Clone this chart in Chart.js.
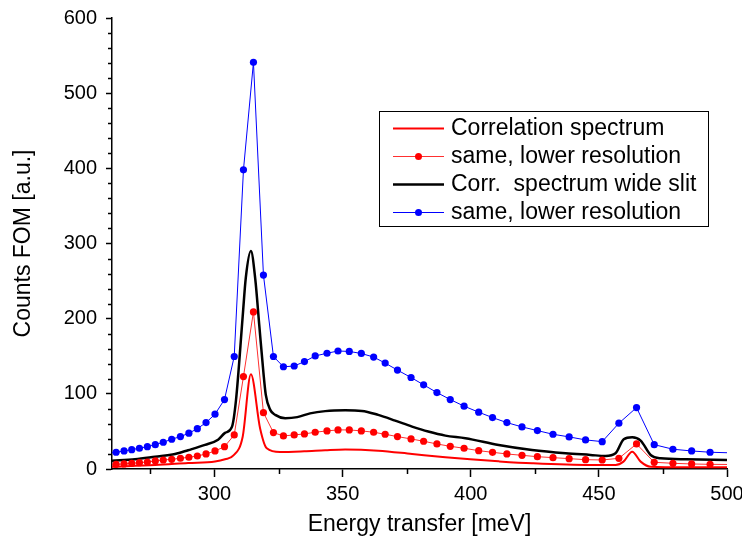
<!DOCTYPE html>
<html>
<head>
<meta charset="utf-8">
<script src="https://cdn.jsdelivr.net/npm/chart.js@4.4.1/dist/chart.umd.min.js"></script>
<style>
    body { margin: 0; background: #fff; }
    canvas { display: block; }
</style>
</head>
<body>
<canvas id="spectrum-chart" width="742" height="547"></canvas>
<script>
// energy transfer [meV] / counts for each curve
const corrX = [260, 276.8, 289.7, 300.2, 304.1, 307.4, 311.0, 314.2, 317.8, 320.4, 325.6, 335, 343.2, 351.0, 363.9, 377.1, 390.1, 399.8, 410.8, 423.9, 446.7, 456.5, 459.6, 463.0, 466.3, 470.2, 483.8, 500];
const corrY = [3, 5.3, 8, 10, 13, 18, 43, 126, 54, 27.6, 22.5, 23.5, 25, 26, 24.4, 20, 15.6, 12.9, 10.2, 7.6, 5.3, 5.3, 9.8, 23.1, 9.8, 3, 2.3, 2.3];

const wideX = [260, 269, 276.8, 284.6, 289.7, 296.3, 301.4, 304.1, 306.8, 308.4, 311.0, 312.2, 314.2, 315.9, 317.5, 319.1, 320.0, 321.7, 323.7, 327.6, 332.3, 337.3, 343.2, 351.0, 357.5, 363.9, 370.5, 377.1, 383.4, 390.1, 397.9, 410.9, 423.9, 437.0, 446.7, 452.6, 456.5, 459.7, 463.0, 466.3, 470.2, 474.1, 483.9, 500];
const wideY = [11, 13, 16.4, 20, 25, 32, 39, 48, 56, 92, 203, 254, 290, 253, 190, 128, 99, 79, 72, 67.6, 69, 74, 77, 78, 77.3, 72, 64.4, 56.4, 49.8, 44.4, 41, 32, 25.3, 20.9, 18.7, 17.3, 20.9, 39.6, 42.3, 37.8, 18.7, 14.2, 12.9, 12];

const lowResX = [258.4, 261.6, 264.7, 267.7, 270.7, 273.8, 276.9, 280.0, 283.3, 286.7, 290.0, 293.3, 296.7, 300.2, 303.9, 307.7, 311.3, 315.2, 319.1, 323.0, 326.9, 331.1, 335.1, 339.3, 343.9, 348.2, 352.6, 357.3, 362.1, 366.6, 371.4, 376.7, 381.6, 386.8, 392.0, 397.4, 403.1, 408.5, 414.1, 420.0, 426.0, 432.1, 438.4, 444.8, 451.3, 457.8, 464.7, 471.6, 478.9, 486.2, 493.4, 501.5];
const lowResRed = [5.8, 6.2, 6.7, 7.6, 8.4, 9.3, 10.7, 12, 12.9, 14.3, 15.6, 17.3, 20, 24, 29.7, 45.3, 123, 209, 75, 48.4, 44, 45.3, 46.7, 48.9, 50.7, 52, 52, 50.7, 48.9, 46.2, 43.1, 40, 36.9, 33.3, 30.2, 27.6, 24.4, 22.2, 20, 18.2, 16.4, 15.1, 13.8, 12.4, 12, 14.2, 33.3, 8.9, 7.6, 6.7, 6.2, 6];
const lowResBlue = [21, 22.3, 24, 25.7, 27.6, 29.7, 32.4, 35.6, 39.6, 43.1, 47.6, 53.7, 61.7, 72.9, 92.4, 149.7, 398, 541, 258, 149.7, 136, 137, 142.9, 150.4, 154, 157, 156.4, 153.7, 148.9, 140.9, 131.6, 121.7, 112, 101.7, 92.4, 83.6, 75.6, 68.4, 61.7, 56, 51.1, 46.2, 42.7, 38.7, 36.4, 60.9, 81.7, 32.4, 26.3, 24, 22.3, 21.5];

const xTicks = [300, 350, 400, 450, 500];
const xMinorTicks = [275, 325, 375, 425, 475];
const yTicks = [0, 100, 200, 300, 400, 500, 600];
const yMinorTicks = [20, 40, 60, 80, 120, 140, 160, 180, 220, 240, 260, 280, 320, 340, 360, 380, 420, 440, 460, 480, 520, 540, 560, 580];

const seriesLabels = ["Correlation spectrum", "same, lower resolution", "Corr.  spectrum wide slit", "same, lower resolution"];

const FONT = "'Liberation Sans', Arial, sans-serif";

function toPoints(xs, ys) {
    return xs.map((x, i) => ({ x: x, y: ys[i] }));
}

// minor ticks, drawn by hand since chart.js only has one tick length
const minorTicks = {
    id: "minorTicks",
    afterDraw(chart) {
        const ctx = chart.ctx;
        const xs = chart.scales.x;
        const ys = chart.scales.y;
        ctx.save();
        ctx.strokeStyle = "#000";
        ctx.lineWidth = 1.5;
        ctx.beginPath();
        xMinorTicks.forEach(v => {
            const px = Math.round(xs.getPixelForValue(v)) + 0.5;
            ctx.moveTo(px, ys.bottom);
            ctx.lineTo(px, ys.bottom + 5);
        });
        yMinorTicks.forEach(v => {
            const py = Math.round(ys.getPixelForValue(v)) + 0.5;
            ctx.moveTo(xs.left, py);
            ctx.lineTo(xs.left - 4, py);
        });
        ctx.stroke();
        ctx.restore();
    }
};

// boxed legend inside the plot
const boxLegend = {
    id: "boxLegend",
    afterDraw(chart) {
        const ctx = chart.ctx;
        const box = { left: 379, top: 111, right: 708, bottom: 226 };
        ctx.save();
        ctx.strokeStyle = "#000";
        ctx.lineWidth = 1;
        ctx.strokeRect(box.left + 0.5, box.top + 0.5, box.right - box.left, box.bottom - box.top);
        ctx.font = "23px " + FONT;
        ctx.textBaseline = "middle";
        ctx.fillStyle = "#000";
        chart.data.datasets.forEach((ds, i) => {
            const y = 128 + i * 28;
            ctx.strokeStyle = ds.borderColor;
            ctx.lineWidth = ds.borderWidth;
            ctx.beginPath();
            ctx.moveTo(393, y + 0.5);
            ctx.lineTo(444, y + 0.5);
            ctx.stroke();
            if (ds.pointRadius > 0) {
                ctx.fillStyle = ds.pointBackgroundColor;
                ctx.beginPath();
                ctx.arc(418.5, y + 0.5, 3.5, 0, Math.PI * 2);
                ctx.fill();
            }
            ctx.fillStyle = "#000";
            ctx.fillText(ds.label, 451, y + 1);
        });
        ctx.restore();
    }
};

const ctx = document.getElementById("spectrum-chart").getContext("2d");

new Chart(ctx, {
    type: "scatter",
    data: {
        datasets: [
            {
                label: seriesLabels[0],
                data: toPoints(corrX, corrY),
                showLine: true,
                borderColor: "#ff0000",
                borderWidth: 2,
                pointRadius: 0,
                cubicInterpolationMode: "monotone"
            },
            {
                label: seriesLabels[1],
                data: toPoints(lowResX, lowResRed),
                showLine: true,
                borderColor: "#ff3030",
                borderWidth: 1,
                pointRadius: 3.6,
                pointBackgroundColor: "#ff0000",
                pointBorderWidth: 0
            },
            {
                label: seriesLabels[2],
                data: toPoints(wideX, wideY),
                showLine: true,
                borderColor: "#000000",
                borderWidth: 2.5,
                pointRadius: 0,
                cubicInterpolationMode: "monotone"
            },
            {
                label: seriesLabels[3],
                data: toPoints(lowResX, lowResBlue),
                showLine: true,
                borderColor: "#0000ff",
                borderWidth: 1,
                pointRadius: 3.6,
                pointBackgroundColor: "#0000ff",
                pointBorderWidth: 0
            }
        ]
    },
    options: {
        responsive: false,
        animation: false,
        layout: { padding: { top: 18, right: 15, left: 0, bottom: 0 } },
        plugins: {
            legend: { display: false },
            tooltip: { enabled: false }
        },
        scales: {
            x: {
                type: "linear",
                position: "bottom",
                min: 260,
                max: 500,
                afterBuildTicks: s => { s.ticks = xTicks.map(v => ({ value: v })); },
                afterFit: s => { s.height = 78; s.paddingLeft = 0; s.paddingRight = 0; },
                border: { color: "#000", width: 1.5 },
                grid: { drawOnChartArea: false, tickLength: 8, tickWidth: 1.5, tickColor: "#000" },
                ticks: { color: "#000", font: { family: FONT, size: 20 }, padding: 5, maxRotation: 0 },
                title: { display: true, text: "Energy transfer [meV]", color: "#000", font: { family: FONT, size: 23 }, padding: { top: 0, bottom: 9 } }
            },
            y: {
                min: 0,
                max: 600,
                afterBuildTicks: s => { s.ticks = yTicks.map(v => ({ value: v })); },
                afterFit: s => { s.width = 112; s.paddingTop = 0; s.paddingBottom = 0; },
                border: { color: "#000", width: 1.5 },
                grid: { drawOnChartArea: false, tickLength: 6, tickWidth: 1.5, tickColor: "#000" },
                ticks: { color: "#000", font: { family: FONT, size: 20 }, padding: 9 },
                title: { display: true, text: "Counts FOM [a.u.]", color: "#000", font: { family: FONT, size: 23 }, padding: { top: 10, bottom: 0 } }
            }
        }
    },
    plugins: [minorTicks, boxLegend]
});
</script>
</body>
</html>
